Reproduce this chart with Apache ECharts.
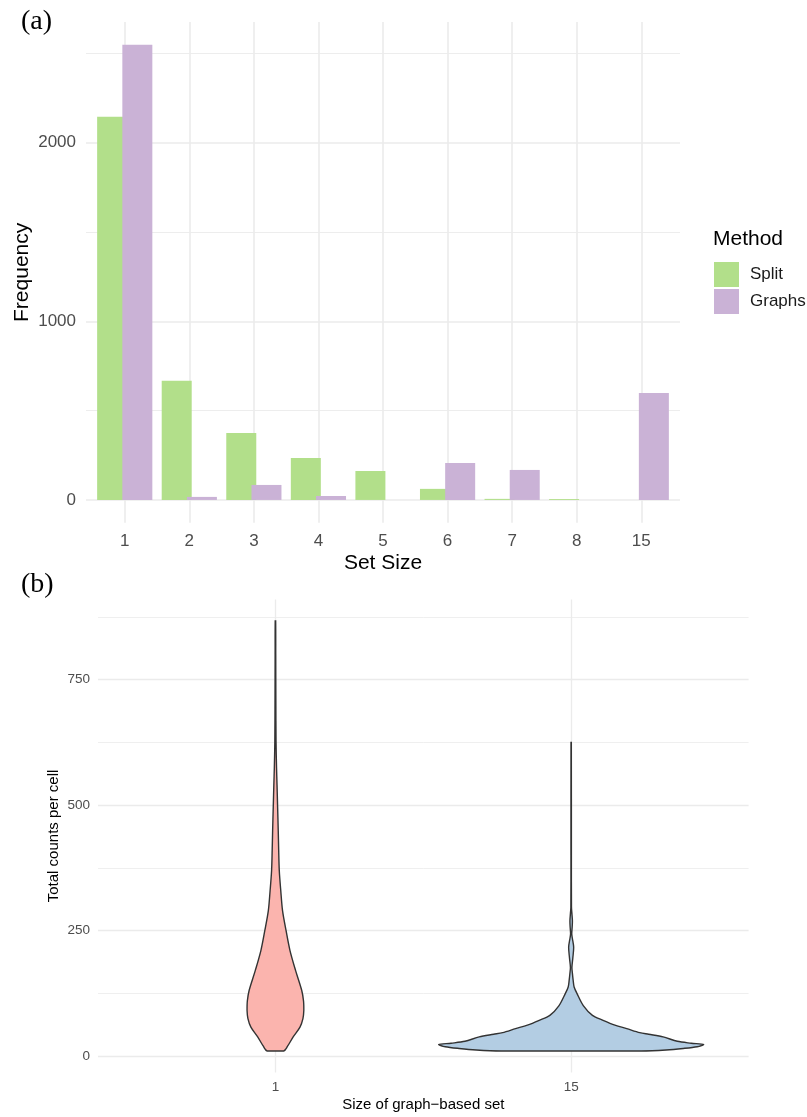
<!DOCTYPE html>
<html><head><meta charset="utf-8">
<script src="https://cdn.jsdelivr.net/npm/echarts@6/dist/echarts.min.js"></script>
<style>html,body{margin:0;padding:0;background:#fff}#c{width:807px;height:1117px}#err{position:absolute;left:120px;top:60px;width:540px;font:11px monospace;color:#c00;white-space:pre-wrap}</style>
</head><body><div id="c"></div><div id="err"></div>
<script>
// ---- Panel (a) data ----
const setSizes = ['1', '2', '3', '4', '5', '6', '7', '8', '15'];
const splitFreq = [2146, 667, 375, 235, 162, 62, 6, 5, 0];
const graphsFreq = [2549, 17, 84, 22, 0, 207, 168, 0, 599];
const freqTicks = [0, 1000, 2000];
const freqMinorTicks = [500, 1500, 2500];

// ---- Panel (b) data ----
const graphSetSizes = ['1', '15'];
const countTicks = [0, 250, 500, 750];
const countMinorTicks = [125, 375, 625, 875];
// violin profile: total counts and half-width (fraction of category band)
const violin1Counts = [10.5, 20, 38.5, 58, 75, 91.5, 110, 131, 171, 211, 250, 290, 330, 370, 410, 449, 496, 540, 575, 628, 708, 800, 867];
const violin1HalfWidth = [0.028, 0.041, 0.060, 0.083, 0.093, 0.096, 0.095, 0.089, 0.068, 0.049, 0.036, 0.024, 0.018, 0.013, 0.011, 0.0095, 0.0074, 0.0054, 0.0037, 0.0020, 0.0014, 0.0010, 0.0007];
const violin15Counts = [10.6, 12.5, 15.5, 19, 23.3, 26, 29.8, 38.5, 43.8, 47, 55, 62, 71.6, 81.5, 101, 124.7, 138, 151, 164, 177, 195, 217, 235, 244, 258, 270, 285, 297, 400, 625];
const violin15HalfWidth = [0.237, 0.321, 0.379, 0.426, 0.448, 0.406, 0.359, 0.311, 0.262, 0.232, 0.188, 0.148, 0.108, 0.072, 0.041, 0.020, 0.010, 0.0068, 0.0044, 0.0025, 0.0055, 0.0085, 0.0040, 0.0020, 0.0035, 0.0042, 0.0024, 0.0010, 0.0007, 0.0005];

const SANS = 'Liberation Sans, Arial, sans-serif';
const GRID = '#EBEBEB';
const TICK = '#4D4D4D';

const freqMax = Math.max(...splitFreq, ...graphsFreq);
const freqLo = -0.05 * freqMax, freqHi = freqMax * 1.05;
const allCounts = violin1Counts.concat(violin15Counts);
const cMin = Math.min(...allCounts), cMax = Math.max(...allCounts);
const cPad = 0.05 * (cMax - cMin);
const cLo = cMin - cPad, cHi = cMax + cPad;

function violinRender(counts, widths, center, fill) {
  return function (params, api) {
    if (params.dataIndex !== 0) return { type: 'group', children: [] };
    const pts = [];
    for (let i = 0; i < counts.length; i++) pts.push(api.coord([center + widths[i], counts[i]]));
    for (let i = counts.length - 1; i >= 0; i--) pts.push(api.coord([center - widths[i], counts[i]]));
    let x0 = Infinity, y0 = Infinity, x1 = -Infinity, y1 = -Infinity;
    pts.forEach(p => { x0 = Math.min(x0, p[0]); y0 = Math.min(y0, p[1]); x1 = Math.max(x1, p[0]); y1 = Math.max(y1, p[1]); });
    return {
      type: 'polygon',
      shape: { points: pts, smooth: 0.3, smoothConstraint: [[x0, y0], [x1, y1]] },
      style: { fill: fill, stroke: '#333333', lineWidth: 1.4 }
    };
  };
}

const xIdxA = setSizes.map((_, i) => i + 1);
const xIdxB = graphSetSizes.map((_, i) => i + 1);

try {
const chart = echarts.init(document.getElementById('c'), null, { renderer: 'canvas' });
window.onerror = function (m, s, l, c, e) { document.getElementById('err').textContent += (e && e.stack) || m; };
chart.setOption({
  animation: false,
  backgroundColor: '#ffffff',
  textStyle: { fontFamily: SANS },
  grid: [
    { left: 86, right: 127, top: 22, height: 500.7, containLabel: false, outerBoundsMode: 'none' },
    { left: 98, right: 58.4, top: 599.4, height: 473.1, containLabel: false, outerBoundsMode: 'none' }
  ],
  xAxis: [
    {
      type: 'value', gridIndex: 0, min: 0.4, max: setSizes.length + 0.6,
      axisLine: { show: false },
      axisTick: { show: false, customValues: xIdxA },
      axisLabel: { customValues: xIdxA, formatter: v => setSizes[Math.round(v) - 1], color: TICK, fontSize: 17, margin: 10, fontFamily: SANS },
      splitLine: { show: true, lineStyle: { color: GRID, width: 1.6 } },
      name: 'Set Size', nameLocation: 'middle', nameGap: 30, nameMoveOverlap: false,
      nameTextStyle: { fontSize: 21, color: '#000', fontFamily: SANS }
    },
    {
      type: 'value', gridIndex: 1, min: 0.4, max: graphSetSizes.length + 0.6,
      axisLine: { show: false },
      axisTick: { show: false, customValues: xIdxB },
      axisLabel: { customValues: xIdxB, formatter: v => graphSetSizes[Math.round(v) - 1], color: TICK, fontSize: 13.5, margin: 8, fontFamily: SANS },
      splitLine: { show: true, lineStyle: { color: GRID, width: 1.3 } },
      name: 'Size of graph\u2212based set', nameLocation: 'middle', nameGap: 25, nameMoveOverlap: false,
      nameTextStyle: { fontSize: 15, color: '#000', fontFamily: SANS }
    }
  ],
  yAxis: [
    {
      type: 'value', gridIndex: 0, min: freqLo, max: freqHi,
      axisLine: { show: false },
      axisTick: { show: false, customValues: freqTicks },
      axisLabel: { customValues: freqTicks, formatter: v => String(v), color: TICK, fontSize: 17, margin: 10, fontFamily: SANS },
      splitLine: { show: true, lineStyle: { color: GRID, width: 1.6 } },
      name: 'Frequency', nameLocation: 'middle', nameGap: 53, nameRotate: 90, nameMoveOverlap: false,
      nameTextStyle: { fontSize: 21, color: '#000', fontFamily: SANS }
    },
    {
      type: 'value', gridIndex: 0, min: freqLo, max: freqHi, position: 'left',
      axisLine: { show: false },
      axisTick: { show: false, customValues: freqMinorTicks },
      axisLabel: { show: false, customValues: freqMinorTicks },
      splitLine: { show: true, lineStyle: { color: GRID, width: 0.9 } }
    },
    {
      type: 'value', gridIndex: 1, min: cLo, max: cHi,
      axisLine: { show: false },
      axisTick: { show: false, customValues: countTicks },
      axisLabel: { customValues: countTicks, formatter: v => String(v), color: TICK, fontSize: 13.5, margin: 8, fontFamily: SANS },
      splitLine: { show: true, lineStyle: { color: GRID, width: 1.3 } },
      name: 'Total counts per cell', nameLocation: 'middle', nameGap: 37, nameRotate: 90, nameMoveOverlap: false,
      nameTextStyle: { fontSize: 15, color: '#000', fontFamily: SANS }
    },
    {
      type: 'value', gridIndex: 1, min: cLo, max: cHi, position: 'left',
      axisLine: { show: false },
      axisTick: { show: false, customValues: countMinorTicks },
      axisLabel: { show: false, customValues: countMinorTicks },
      splitLine: { show: true, lineStyle: { color: GRID, width: 0.8 } }
    }
  ],
  legend: {
    data: ['Split', 'Graphs'],
    orient: 'vertical', left: 714, top: 262, padding: 0,
    itemWidth: 25, itemHeight: 25, itemGap: 2, icon: 'rect',
    textStyle: { fontSize: 17, color: '#1a1a1a', fontFamily: SANS, padding: [0, 0, 0, 6] },
    selectedMode: false
  },
  graphic: [
    { type: 'text', left: 21, top: 8, style: { text: '(a)', font: '28px "Liberation Serif", serif', fill: '#000' } },
    { type: 'text', left: 21, top: 571, style: { text: '(b)', font: '28px "Liberation Serif", serif', fill: '#000' } },
    { type: 'text', left: 713, top: 229, style: { text: 'Method', font: '21px "Liberation Sans", Arial, sans-serif', fill: '#000' } }
  ],
  series: [
    {
      name: 'Split', type: 'bar', xAxisIndex: 0, yAxisIndex: 0,
      data: splitFreq.map((v, i) => [i + 1, v]),
      barWidth: 30, barGap: '-16%',
      itemStyle: { color: '#B2DF8A' }
    },
    {
      name: 'Graphs', type: 'bar', xAxisIndex: 0, yAxisIndex: 0,
      data: graphsFreq.map((v, i) => [i + 1, v]),
      barWidth: 30, barGap: '-16%',
      itemStyle: { color: '#CAB2D6' }
    },
    {
      name: 'v1', type: 'custom', xAxisIndex: 1, yAxisIndex: 2, silent: true,
      data: violin1Counts.map(c => [1, c]),
      encode: { x: 0, y: 1 },
      renderItem: violinRender(violin1Counts, violin1HalfWidth, 1, '#FBB4AE')
    },
    {
      name: 'v15', type: 'custom', xAxisIndex: 1, yAxisIndex: 2, silent: true,
      data: violin15Counts.map(c => [2, c]),
      encode: { x: 0, y: 1 },
      renderItem: violinRender(violin15Counts, violin15HalfWidth, 2, '#B3CDE3')
    }
  ]
});
} catch (e) {
  document.getElementById('err').textContent = (e && e.stack) || String(e);
}
</script></body></html>
